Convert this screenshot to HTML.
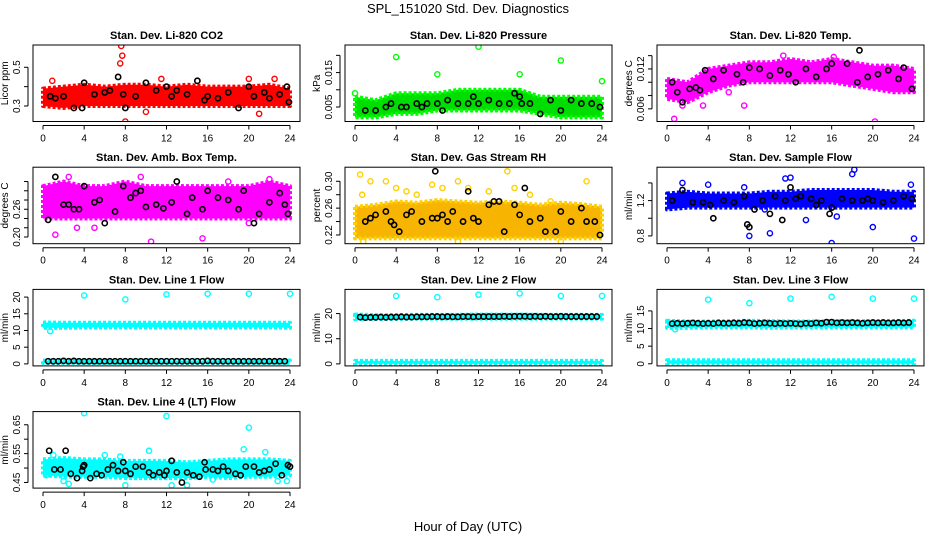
<!DOCTYPE html>
<html><head><meta charset="utf-8"><style>
html,body{margin:0;padding:0;background:#fff;}
svg{display:block;font-family:"Liberation Sans",sans-serif;}
</style></head><body>
<svg id="chart" width="936" height="540" viewBox="0 0 936 540">
<text x="468" y="13" text-anchor="middle" font-size="13">SPL_151020  Std. Dev. Diagnostics</text>
<text x="468" y="531" text-anchor="middle" font-size="13">Hour of Day (UTC)</text>
</svg>
<script>
// ---- data ----
const hoursBand = [0,2,4,6,8,10,12,14,16,18,20,22,24];
const xTickLabels = [0,4,8,12,16,20,24];

// Panel 1 CO2
const co2Lo = [0.30,0.29,0.30,0.30,0.30,0.30,0.30,0.30,0.30,0.30,0.30,0.30,0.30];
const co2Hi = [0.39,0.40,0.41,0.40,0.41,0.41,0.40,0.41,0.40,0.40,0.40,0.41,0.39];
const co2OutX = [7.6,7.7,7.5,8,10,21,0.9,20,22.5,15,11.5];
const co2OutY = [0.61,0.56,0.52,0.22,0.27,0.26,0.43,0.44,0.44,0.43,0.44];
const co2BlkX = [0.7,1.2,2,3,3.8,4,5,6,6.5,7.3,7.8,8,9,10,11,12,12.5,13,14,15,15.7,16,17,18,19,20,20.5,21.5,22,23,23.7,23.9];
const co2BlkY = [0.35,0.34,0.35,0.29,0.29,0.42,0.36,0.37,0.38,0.45,0.36,0.29,0.35,0.42,0.38,0.40,0.35,0.38,0.36,0.43,0.33,0.35,0.34,0.37,0.29,0.40,0.35,0.37,0.34,0.36,0.40,0.32];

// Panel 2 Pressure
const presLo = [0.002,0.002,0.003,0.003,0.004,0.004,0.004,0.004,0.004,0.003,0.002,0.002,0.002];
const presHi = [0.008,0.007,0.009,0.009,0.009,0.010,0.010,0.010,0.010,0.008,0.008,0.008,0.008];
const presOutX = [4,8,12,16,20,24,0];
const presOutY = [0.0195,0.0145,0.0225,0.0145,0.0185,0.0125,0.009];
const presBlkX = [1,2,3,3.5,4.5,5,6,6.5,7,8,8.5,9,10,11,11.5,12,13,14,15,15.5,16,16.2,17,18,19,20,21,22,23,23.8];
const presBlkY = [0.004,0.004,0.005,0.006,0.005,0.005,0.006,0.005,0.006,0.006,0.004,0.007,0.006,0.006,0.008,0.006,0.007,0.006,0.006,0.009,0.008,0.006,0.006,0.003,0.007,0.004,0.007,0.006,0.006,0.005];

// Panel 3 Li-820 Temp
const tLo = [0.0075,0.0070,0.0085,0.0095,0.0100,0.0100,0.0100,0.0100,0.0100,0.0095,0.0090,0.0085,0.0085];
const tHi = [0.0105,0.0100,0.0120,0.0125,0.0130,0.0130,0.0135,0.0130,0.0135,0.0130,0.0125,0.0125,0.0120];
const tOutX = [0.7,1.5,3.5,7.5,20.2,6,2,11.3,16.2];
const tOutY = [0.0045,0.0065,0.0065,0.0065,0.0041,0.0085,0.0080,0.0140,0.0138];
const tBlkX = [0.5,1,1.5,2.2,2.8,3.2,3.7,4.5,5.5,6.8,7.4,8,9,10,11,11.8,12.5,13.5,14.5,15.5,16,17.5,18.5,18.7,19.5,20.5,21.5,22.5,23,23.8];
const tBlkY = [0.0100,0.0085,0.0070,0.0090,0.0092,0.0088,0.0118,0.0105,0.0118,0.0112,0.0100,0.0122,0.0120,0.0110,0.0118,0.0112,0.0100,0.0120,0.0108,0.0120,0.0128,0.0128,0.0100,0.0148,0.0108,0.0112,0.0118,0.0105,0.0122,0.0090];

// Panel 4 Amb Box Temp
const bLo = [0.24,0.24,0.24,0.24,0.24,0.24,0.24,0.24,0.24,0.24,0.24,0.24,0.24];
const bHi = [0.31,0.32,0.31,0.31,0.32,0.31,0.31,0.31,0.31,0.31,0.31,0.32,0.31];
const bOutX = [1.2,3.3,10.5,15.5,5,20,9.5,2.5,18,22];
const bOutY = [0.205,0.22,0.19,0.197,0.22,0.23,0.33,0.33,0.32,0.325];
const bBlkX = [0.5,1.2,2,2.5,3,3.5,4,5,5.5,6,7,7.8,8.5,9,9.5,10,11,11.7,12.5,13,14,14.5,15.5,16,17,18,19,19.5,20.5,21,22,23,23.5,23.8];
const bBlkY = [0.237,0.33,0.27,0.27,0.26,0.26,0.31,0.275,0.28,0.23,0.255,0.31,0.285,0.295,0.30,0.265,0.27,0.262,0.275,0.32,0.25,0.285,0.26,0.30,0.285,0.28,0.26,0.30,0.23,0.25,0.275,0.295,0.27,0.25];

// Panel 5 Gas Stream RH
const rhLo = [0.215,0.215,0.215,0.215,0.215,0.215,0.215,0.215,0.215,0.215,0.215,0.215,0.215];
const rhHi = [0.262,0.265,0.270,0.268,0.272,0.270,0.268,0.270,0.268,0.265,0.268,0.266,0.262];
const rhOutX = [0.5,0.7,1.5,3,4,5,7.5,10,11,13,14.8,17,19,22.5,10,20,0.8,6,8.5,15.5];
const rhOutY = [0.31,0.28,0.30,0.30,0.29,0.285,0.295,0.30,0.29,0.285,0.315,0.28,0.27,0.30,0.21,0.21,0.21,0.28,0.29,0.29];
const rhBlkX = [1,1.5,2,3,3.5,3.8,4.3,5,5.5,6.5,7.5,7.8,8,8.5,9,9.5,10.5,11,11.5,12,13,13.5,14,14.5,15.5,16,16.5,17,18,18.5,19.5,20,21,22,22.5,23.3,23.8];
const rhBlkY = [0.240,0.245,0.250,0.255,0.240,0.235,0.225,0.250,0.255,0.240,0.245,0.315,0.245,0.250,0.240,0.255,0.240,0.285,0.245,0.240,0.265,0.270,0.270,0.225,0.265,0.250,0.290,0.240,0.245,0.225,0.225,0.255,0.240,0.260,0.240,0.240,0.220];

// Panel 6 Sample Flow
const sfLo = [1.10,1.12,1.12,1.12,1.12,1.12,1.12,1.12,1.12,1.12,1.12,1.12,1.12];
const sfHi = [1.28,1.30,1.28,1.28,1.28,1.30,1.30,1.32,1.32,1.32,1.32,1.30,1.30];
const sfOutX = [1.5,4,7.5,11.5,12,16,18.2,20,24,23.7,8,10,13.5,9.5,18,16.5];
const sfOutY = [1.40,1.38,1.35,1.45,1.46,0.72,1.55,0.90,0.77,1.38,0.80,0.83,0.98,1.10,1.50,1.02];
const sfBlkX = [0.5,1.5,2.5,3.5,4.2,4.5,5.5,6.5,7.5,7.8,8,8.5,9.3,10,10.5,11.2,11.5,12,12.5,13,14,14.5,15,15.8,16,17,18,19,19.5,20,21,22,23,23.8];
const sfBlkY = [1.20,1.32,1.18,1.18,1.15,1.00,1.20,1.18,1.25,0.93,0.90,1.10,1.20,1.05,1.25,0.98,1.20,1.35,1.22,1.25,1.22,1.15,1.20,1.05,1.12,1.22,1.20,1.20,1.22,1.20,1.18,1.20,1.25,1.22];

// Panels 7-9 line flows
const halfHours = [0.5,1,1.5,2,2.5,3,3.5,4,4.5,5,5.5,6,6.5,7,7.5,8,8.5,9,9.5,10,10.5,11,11.5,12,12.5,13,13.5,14,14.5,15,15.5,16,16.5,17,17.5,18,18.5,19,19.5,20,20.5,21,21.5,22,22.5,23,23.5];
const l1Lo = [10.8,10.8,10.9,10.9,10.9,10.9,10.9,10.9,10.9,10.9,10.9,10.9,10.8];
const l1Hi = [12.4,12.3,12.3,12.3,12.3,12.3,12.3,12.3,12.3,12.3,12.3,12.3,12.3];
const l1LowLo = [0.3,0.3,0.3,0.3,0.3,0.3,0.3,0.3,0.3,0.3,0.3,0.3,0.3];
const l1LowHi = [1.0,1.0,1.0,1.0,1.0,1.0,1.0,1.0,1.0,1.0,1.0,1.0,1.0];
const l1OutX = [4,8,12,16,20,24,0.7];
const l1OutY = [20.5,19.3,20.8,21,21,21,9.8];
const l1Blk = [0.8,0.8,0.8,0.9,0.8,0.9,0.8,0.8,0.8,0.8,0.8,0.8,0.8,0.8,0.8,0.8,0.8,0.8,0.8,0.8,0.8,0.8,0.8,0.8,0.8,0.8,0.8,0.8,0.8,0.8,0.8,0.9,0.8,0.8,0.8,0.8,0.8,0.8,0.8,0.8,0.8,0.8,0.8,0.8,0.8,0.8,0.8];

const l2Lo = [17.8,17.9,17.9,18.0,18.0,18.0,18.0,18.0,18.0,18.0,18.0,18.0,18.0];
const l2Hi = [19.6,19.4,19.4,19.5,19.5,19.5,19.6,19.6,19.6,19.5,19.5,19.5,19.5];
const l2LowLo = [0,0,0,0,0,0,0,0,0,0,0,0,0];
const l2LowHi = [1.2,1.2,1.2,1.2,1.2,1.2,1.2,1.2,1.2,1.2,1.2,1.2,1.2];
const l2OutX = [4,8,12,16,20,24];
const l2OutY = [27,26.5,27.5,28,27,27];
const l2Blk = [18.6,18.4,18.5,18.5,18.6,18.5,18.6,18.6,18.7,18.6,18.6,18.7,18.7,18.7,18.8,18.8,18.7,18.8,18.7,18.7,18.8,18.8,18.7,18.8,18.8,18.8,18.8,18.8,18.9,18.8,18.9,18.9,18.9,18.8,18.9,18.8,18.9,18.8,18.8,18.9,18.8,18.8,18.8,18.8,18.8,18.8,18.8];

const l3Lo = [10.2,10.2,10.3,10.3,10.3,10.2,10.3,10.3,10.3,10.3,10.3,10.3,10.3];
const l3Hi = [12.2,12.0,12.0,12.1,12.2,12.1,12.0,12.0,12.1,12.1,12.1,12.1,12.2];
const l3LowLo = [0,0,0,0,0,0,0,0,0,0,0,0,0];
const l3LowHi = [1.0,1.0,1.0,1.0,1.0,1.0,1.0,1.0,1.0,1.0,1.0,1.0,1.0];
const l3OutX = [4,8,12,16,20,24,0.8];
const l3OutY = [18.2,17.2,18.5,19,18.5,18.5,9.8];
const l3Blk = [11.4,11.5,11.4,11.5,11.6,11.5,11.4,11.5,11.4,11.6,11.5,11.5,11.6,11.5,11.7,11.6,11.4,11.5,11.6,11.5,11.4,11.5,11.4,11.5,11.4,11.3,11.5,11.4,11.6,11.5,11.8,11.8,11.6,11.7,11.6,11.7,11.6,11.5,11.6,11.7,11.6,11.7,11.6,11.6,11.7,11.6,11.7];

// Panel 10 Line 4
const l4Lo = [0.475,0.470,0.470,0.470,0.465,0.465,0.465,0.465,0.470,0.465,0.470,0.470,0.475];
const l4Hi = [0.530,0.535,0.530,0.530,0.525,0.525,0.525,0.520,0.525,0.530,0.530,0.530,0.525];
const l4OutX = [4,12,20,10.3,19.5,2,2.5,8,12.5,14,22.8,23.7,0.3,21.6,6,7.5,1,16.5];
const l4OutY = [0.69,0.68,0.64,0.56,0.565,0.455,0.445,0.44,0.44,0.44,0.455,0.455,0.475,0.555,0.545,0.54,0.545,0.46];
const l4BlkX = [0.6,1.1,1.7,2.2,2.7,3.3,3.8,3.9,4,4.6,5.2,5.7,6.3,6.8,7.3,7.8,8,8.5,9,9.7,10.3,10.7,11.3,11.8,12,12.5,13,13.5,14,14.6,15.2,15.7,15.8,16.5,17,17.5,18,18.7,19.2,19.7,20.5,21,21.5,22,22.6,23.2,23.8,24];
const l4BlkY = [0.56,0.495,0.495,0.56,0.48,0.465,0.49,0.505,0.51,0.465,0.48,0.475,0.495,0.51,0.49,0.52,0.49,0.48,0.505,0.505,0.485,0.475,0.485,0.475,0.49,0.525,0.485,0.45,0.485,0.475,0.47,0.52,0.495,0.495,0.49,0.505,0.49,0.48,0.475,0.505,0.505,0.485,0.49,0.495,0.515,0.475,0.51,0.505];

// ---- rendering ----
const NS = 'http://www.w3.org/2000/svg';
const svg = document.getElementById('chart');
function mk(tag, attrs, parent){ const e=document.createElementNS(NS,tag); for(const k in attrs) e.setAttribute(k,attrs[k]); (parent||svg).appendChild(e); return e; }

function panel(cfg){
  const L=33+312*cfg.col, R=300+312*cfg.col;
  const T=45+122.2*cfg.row, B=T+76.5;
  const g = mk('g',{});
  
  
  const xs = h => (L+10) + h/24*(R-L-20);
  const ys = v => B - (v-cfg.yMin)/(cfg.yMax-cfg.yMin)*(B-T);
  const clip = 'clip'+cfg.name;
  const cp = mk('clipPath',{id:clip},g); mk('rect',{x:L,y:T,width:R-L,height:B-T},cp);
  const plot = mk('g',{'clip-path':'url(#'+clip+')'},g);
  (cfg.bands||[]).forEach(bd=>{
    let d='';
    hoursBand.forEach((h,i)=>{ d += (i?'L':'M')+xs(h)+','+ys(bd.hi[i]); });
    for(let i=hoursBand.length-1;i>=0;i--) d+='L'+xs(hoursBand[i])+','+ys(bd.lo[i]);
    const p = mk('path',{d:d+'Z',fill:cfg.fill,stroke:cfg.edge,'stroke-width':4,'stroke-linejoin':'round','stroke-dasharray':'3 2'},plot);
    
    
  });
  cfg.outX.forEach((x,i)=>{
    const c = mk('circle',{cx:xs(x),cy:ys(cfg.outY[i]),r:2.6,fill:'none',stroke:cfg.edge,'stroke-width':1.4},plot);
    
    
  });
  cfg.blkX.forEach((x,i)=>{
    const c = mk('circle',{cx:xs(x),cy:ys(cfg.blkY[i]),r:2.6,fill:'none',stroke:'#000','stroke-width':1.6},plot);
    
    
  });
  mk('rect',{x:L,y:T,width:R-L,height:B-T,fill:'none',stroke:'#000','stroke-width':1},g);
  const t = mk('text',{x:(L+R)/2,y:T-6,'text-anchor':'middle','font-size':11,'font-weight':'bold'},g);
  t.textContent = cfg.title;
  
  
  const ay = B+4;
  mk('line',{x1:xs(0),x2:xs(24),y1:ay,y2:ay,stroke:'#000'},g);
  xTickLabels.forEach(h=>{
    mk('line',{x1:xs(h),x2:xs(h),y1:ay,y2:ay+4,stroke:'#000'},g);
    const tl = mk('text',{x:xs(h),y:ay+16,'text-anchor':'middle','font-size':10},g);
    tl.textContent = h;
    
    
  });
  const ax = L-5;
  mk('line',{x1:ax,x2:ax,y1:ys(cfg.ticks[0]),y2:ys(cfg.ticks[cfg.ticks.length-1]),stroke:'#000'},g);
  cfg.ticks.forEach(v=>{ mk('line',{x1:ax,x2:ax-4,y1:ys(v),y2:ys(v),stroke:'#000'},g); });
  cfg.labels.forEach(v=>{
    const yy=ys(v);
    const tl = mk('text',{x:L-13,y:yy,'text-anchor':'middle','font-size':10,transform:'rotate(-90 '+(L-13)+' '+yy+')'},g);
    tl.textContent = cfg.fmt(v);
    
    
  });
  const ym=(T+B)/2;
  const yt = mk('text',{x:L-25,y:ym,'text-anchor':'middle','font-size':10,transform:'rotate(-90 '+(L-25)+' '+ym+')'},g);
  yt.textContent = cfg.ylab;
  
  
}
const f1=v=>v.toFixed(1), f2=v=>v.toFixed(2), f3=v=>v.toFixed(3), f0=v=>String(v);
const cy='#00ffff';
panel({name:'panel-co2',col:0,row:0,title:'Stan. Dev. Li-820 CO2',ylab:'Licor ppm',yMin:0.22,yMax:0.615,ticks:[0.3,0.4,0.5],labels:[0.3,0.5],fmt:f1,fill:'#ff0000',edge:'#ff0000',bands:[{lo:co2Lo,hi:co2Hi}],outX:co2OutX,outY:co2OutY,blkX:co2BlkX,blkY:co2BlkY});
panel({name:'panel-pressure',col:1,row:0,title:'Stan. Dev. Li-820 Pressure',ylab:'kPa',yMin:0.0008,yMax:0.023,ticks:[0.005,0.010,0.015,0.020],labels:[0.005,0.015],fmt:f3,fill:'#00dd00',edge:'#00ff00',bands:[{lo:presLo,hi:presHi}],outX:presOutX,outY:presOutY,blkX:presBlkX,blkY:presBlkY});
panel({name:'panel-li820-temp',col:2,row:0,title:'Stan. Dev. Li-820 Temp.',ylab:'degrees C',yMin:0.0041,yMax:0.0156,ticks:[0.006,0.008,0.010,0.012,0.014],labels:[0.006,0.012],fmt:f3,fill:'#ff00ff',edge:'#ff00ff',bands:[{lo:tLo,hi:tHi}],outX:tOutX,outY:tOutY,blkX:tBlkX,blkY:tBlkY});
panel({name:'panel-box-temp',col:0,row:1,title:'Stan. Dev. Amb. Box Temp.',ylab:'degrees C',yMin:0.1855,yMax:0.351,ticks:[0.20,0.22,0.24,0.26,0.28,0.30,0.32],labels:[0.20,0.26],fmt:f2,fill:'#ff00ff',edge:'#ff00ff',bands:[{lo:bLo,hi:bHi}],outX:bOutX,outY:bOutY,blkX:bBlkX,blkY:bBlkY});
panel({name:'panel-rh',col:1,row:1,title:'Stan. Dev. Gas Stream RH',ylab:'percent',yMin:0.207,yMax:0.321,ticks:[0.22,0.24,0.26,0.28,0.30],labels:[0.22,0.26,0.30],fmt:f2,fill:'#f7b400',edge:'#ffd000',bands:[{lo:rhLo,hi:rhHi}],outX:rhOutX,outY:rhOutY,blkX:rhBlkX,blkY:rhBlkY});
panel({name:'panel-sample-flow',col:2,row:1,title:'Stan. Dev. Sample Flow',ylab:'ml/min',yMin:0.712,yMax:1.578,ticks:[0.8,1.0,1.2,1.4],labels:[0.8,1.2],fmt:f1,fill:'#0000ff',edge:'#0000ff',bands:[{lo:sfLo,hi:sfHi}],outX:sfOutX,outY:sfOutY,blkX:sfBlkX,blkY:sfBlkY});
panel({name:'panel-line1',col:0,row:2,title:'Stan. Dev. Line 1 Flow',ylab:'ml/min',yMin:-0.6,yMax:22.3,ticks:[0,5,10,15,20],labels:[0,5,10,15,20],fmt:f0,fill:cy,edge:cy,bands:[{lo:l1Lo,hi:l1Hi},{lo:l1LowLo,hi:l1LowHi}],outX:l1OutX,outY:l1OutY,blkX:halfHours,blkY:l1Blk});
panel({name:'panel-line2',col:1,row:2,title:'Stan. Dev. Line 2 Flow',ylab:'ml/min',yMin:-0.8,yMax:29.6,ticks:[0,10,20],labels:[0,10,20],fmt:f0,fill:cy,edge:cy,bands:[{lo:l2Lo,hi:l2Hi},{lo:l2LowLo,hi:l2LowHi}],outX:l2OutX,outY:l2OutY,blkX:halfHours,blkY:l2Blk});
panel({name:'panel-line3',col:2,row:2,title:'Stan. Dev. Line 3 Flow',ylab:'ml/min',yMin:-0.6,yMax:21.1,ticks:[0,5,10,15],labels:[0,5,10,15],fmt:f0,fill:cy,edge:cy,bands:[{lo:l3Lo,hi:l3Hi},{lo:l3LowLo,hi:l3LowHi}],outX:l3OutX,outY:l3OutY,blkX:halfHours,blkY:l3Blk});
panel({name:'panel-line4',col:0,row:3,title:'Stan. Dev. Line 4 (LT) Flow',ylab:'ml/min',yMin:0.4305,yMax:0.6956,ticks:[0.45,0.50,0.55,0.60,0.65],labels:[0.45,0.55,0.65],fmt:f2,fill:cy,edge:cy,bands:[{lo:l4Lo,hi:l4Hi}],outX:l4OutX,outY:l4OutY,blkX:l4BlkX,blkY:l4BlkY});
</script>
</body></html>
